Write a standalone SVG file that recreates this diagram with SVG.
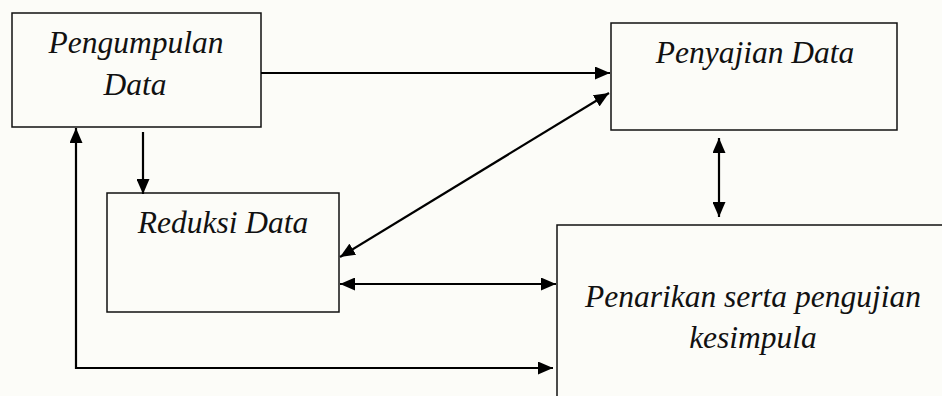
<svg xmlns="http://www.w3.org/2000/svg" width="942" height="396" viewBox="0 0 942 396">
<style>
.box{fill:none;stroke:#111;stroke-width:1.5}
.con{fill:none;stroke:#000;stroke-width:2.2}
</style>
<defs>
<marker id="ah" markerUnits="userSpaceOnUse" viewBox="0 0 15 13" markerWidth="15" markerHeight="13" refX="15" refY="6.5" orient="auto-start-reverse">
<path d="M0,0 L15,6.5 L0,13 z" fill="#000"/>
</marker>
</defs>
<rect width="942" height="396" fill="#fcfcf8"/>
<g font-family="Liberation Serif, DejaVu Serif, Times New Roman, Times, serif" font-style="italic" font-size="31.5" fill="#111" text-anchor="middle">
<g id="pengumpulan">
<rect class="box" x="12" y="13" width="249" height="114"/>
<text x="136" y="53">Pengumpulan</text>
<text x="135" y="95">Data</text>
</g>
<g id="penyajian">
<rect class="box" x="611" y="23" width="286" height="107"/>
<text x="755" y="63">Penyajian Data</text>
</g>
<g id="reduksi">
<rect class="box" x="107" y="193" width="232" height="119"/>
<text x="223" y="233">Reduksi Data</text>
</g>
<g id="penarikan">
<rect class="box" x="557" y="225" width="420" height="200"/>
<text x="753" y="307">Penarikan serta pengujian</text>
<text x="753" y="348">kesimpula</text>
</g>
</g>
<g id="connectors">
<line class="con" x1="261" y1="73" x2="610" y2="73" marker-end="url(#ah)"/>
<line class="con" x1="609" y1="93" x2="340" y2="257" marker-start="url(#ah)" marker-end="url(#ah)"/>
<line class="con" x1="340" y1="284" x2="556" y2="284" marker-start="url(#ah)" marker-end="url(#ah)"/>
<line class="con" x1="719" y1="138" x2="719" y2="217" marker-start="url(#ah)" marker-end="url(#ah)"/>
<line class="con" x1="143" y1="132" x2="143" y2="194" marker-end="url(#ah)"/>
<polyline class="con" points="76,128 76,368 553,368" marker-start="url(#ah)" marker-end="url(#ah)"/>
</g>
</svg>
